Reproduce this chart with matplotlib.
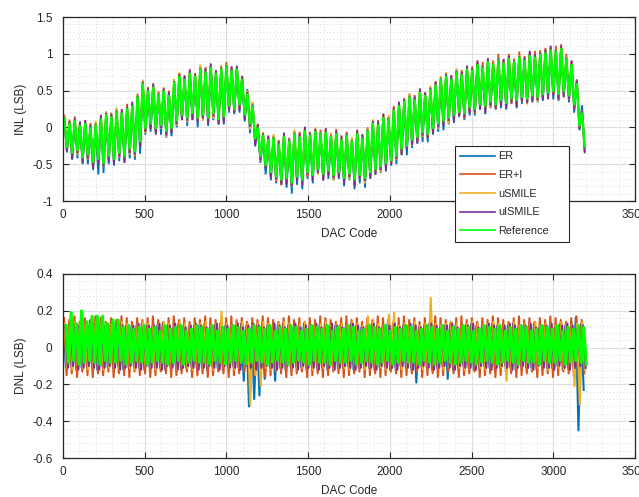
import numpy as np
import matplotlib
matplotlib.use("Agg")
import matplotlib.pyplot as plt
from matplotlib.ticker import MultipleLocator, FuncFormatter
from matplotlib.lines import Line2D

plt.rcParams['font.family'] = ['Liberation Sans', 'DejaVu Sans']
plt.rcParams['axes.unicode_minus'] = False

# ---------------- data (read per 32-code segment, 100 segments) ----------------
CODES_PER_SEG = 32
series_names = ["ER", "ER+I", "uSMILE", "uISMILE", "Reference"]
series_colors = ["#0072BD", "#D95319", "#EDB120", "#7E2F8E", "#00FF00"]

# INL (LSB) of the Reference: segment peak / trough
ref_inl_peak = [
    .12, .06, .10, .03, .06, .00, .04, .12, .18, .15,
    .22, .20, .26, .30, .42, .60, .50, .55, .45, .50,
    .44, .62, .70, .66, .74, .70, .80, .76, .82, .74,
    .80, .84, .78, .80, .66, .46, .30, .00, -.10, -.16,
    -.14, -.22, -.12, -.18, -.08, -.12, -.04, -.10, -.05, -.08,
    -.06, -.12, -.08, -.16, -.10, -.18, -.08, -.14, -.04, .06,
    .04, .14, .12, .24, .30, .36, .42, .38, .48, .44,
    .52, .58, .66, .70, .66, .76, .72, .80, .78, .86,
    .82, .90, .86, .92, .88, .94, .90, .96, .92, .98,
    .96, 1.00, 1.02, 1.06, 1.04, 1.08, .94, .86, .60, .20]
ref_inl_trough = [
    -.28, -.36, -.32, -.42, -.38, -.48, -.44, -.50, -.40, -.44,
    -.36, -.40, -.30, -.34, -.20, -.02, .04, -.02, .02, -.06,
    -.02, .08, .16, .12, .18, .12, .16, .12, .18, .10,
    .14, .28, .24, .30, .16, .04, -.16, -.40, -.52, -.62,
    -.68, -.72, -.70, -.76, -.68, -.72, -.62, -.66, -.58, -.64,
    -.60, -.66, -.62, -.70, -.64, -.72, -.66, -.70, -.62, -.58,
    -.54, -.50, -.46, -.40, -.30, -.26, -.18, -.14, -.08, -.10,
    -.02, .04, .08, .12, .16, .20, .18, .26, .24, .30,
    .28, .34, .30, .36, .32, .38, .36, .40, .38, .42,
    .40, .44, .46, .48, .44, .48, .42, .30, .02, -.26]

# other designs: deviation of segment peak / trough from the Reference (LSB)
er_peak_dev = [
    -.03, -.02, -.04, -.03, -.02, -.04, -.03, -.02, -.04, -.03,
    -.02, -.04, -.03, -.02, -.04, -.03, -.02, -.04, -.03, -.02,
    -.04, -.03, -.02, -.04, -.03, -.02, -.04, -.03, -.02, -.04,
    -.03, -.02, -.04, .02, .04, .06, .03, -.02, -.04, -.03,
    -.02, -.04, -.03, -.02, -.04, -.03, -.02, -.04, -.03, -.02,
    -.04, -.03, -.02, -.04, -.03, -.02, -.04, -.03, -.02, -.04,
    -.03, -.02, -.04, -.03, -.02, -.04, -.03, -.02, -.04, -.03,
    -.02, -.04, -.03, -.02, -.04, -.03, -.02, -.04, -.03, -.02,
    -.04, -.03, -.02, -.04, -.03, -.02, -.04, -.03, -.02, -.04,
    -.03, -.02, -.04, -.03, -.02, -.04, -.03, -.02, .05, .10]
er_trough_dev = [
    -.06, -.08, -.10, -.08, -.12, -.10, -.20, -.12, -.10, -.08,
    -.10, -.08, -.12, -.10, -.16, -.08, -.10, -.06, -.12, -.08,
    -.10, -.08, -.06, -.10, -.08, -.12, -.06, -.10, -.08, -.06,
    -.10, -.08, -.06, -.10, -.08, -.12, -.10, -.08, -.12, -.10,
    -.08, -.06, -.12, -.14, -.10, -.12, -.08, -.10, -.06, -.08,
    -.10, -.06, -.08, -.10, -.08, -.12, -.10, -.12, -.08, -.06,
    -.08, -.10, -.06, -.10, -.08, -.12, -.10, -.08, -.12, -.10,
    -.08, -.10, -.12, -.08, -.10, -.06, -.08, -.10, -.08, -.06,
    -.10, -.08, -.06, -.10, -.08, -.06, -.10, -.08, -.06, -.08,
    -.06, -.08, -.06, -.10, -.08, -.06, -.08, -.10, -.06, -.06]
eri_peak_dev = [
    .04, .02, .05, .01, .03, .06, .02, .04, .01, .05,
    .03, .02, .06, .01, .04, .03, .05, .02, .04, .01,
    .06, .03, .02, .05, .01, .04, .03, .06, .02, .04,
    .01, .05, .03, .02, .04, .03, .02, .05, .03, .04,
    .02, .05, .01, .04, .03, .06, .02, .04, .01, .05,
    .03, .02, .06, .01, .04, .03, .05, .02, .04, .01,
    .06, .03, .02, .05, .01, .04, .03, .06, .02, .04,
    .01, .05, .03, .02, .04, .03, .06, .02, .05, .04,
    .07, .03, .05, .08, .04, .06, .03, .07, .05, .04,
    .08, .05, .06, .04, .07, .05, .06, .04, .05, .03]
eri_trough_dev = [
    -.03, -.05, -.02, -.04, -.06, -.03, -.05, -.02, -.04, -.03,
    -.05, -.02, -.04, -.06, -.03, -.05, -.02, -.04, -.03, -.05,
    -.02, -.04, -.06, -.03, -.05, -.02, -.04, -.03, -.05, -.02,
    -.04, -.06, -.03, -.05, -.02, -.04, -.03, -.05, -.02, -.04,
    -.06, -.03, -.05, -.02, -.04, -.03, -.05, -.02, -.04, -.06,
    -.03, -.05, -.02, -.04, -.03, -.05, -.02, -.04, -.06, -.03,
    -.05, -.02, -.04, -.03, -.05, -.02, -.04, -.06, -.03, -.05,
    -.02, -.04, -.03, -.05, -.02, -.04, -.06, -.03, -.05, -.02,
    -.04, -.03, -.05, -.02, -.04, -.06, -.03, -.05, -.02, -.04,
    -.03, -.05, -.02, -.04, -.06, -.03, -.05, -.02, -.04, -.03]
usmile_peak_dev = [
    .02, .05, .01, .04, .02, .01, .05, .02, .04, .01,
    .05, .04, .01, .03, .02, .05, .01, .04, .02, .05,
    .01, .04, .05, .02, .03, .01, .05, .02, .04, .01,
    .05, .02, .04, .03, .01, .04, .05, .02, .04, .01,
    .05, .02, .04, .01, .05, .02, .04, .01, .05, .02,
    .04, .05, .01, .03, .02, .05, .01, .04, .02, .05,
    .01, .04, .05, .02, .03, .01, .05, .02, .04, .01,
    .05, .02, .04, .05, .01, .04, .02, .03, .01, .02,
    .03, .01, .02, .03, .02, .01, .04, .02, .03, .01,
    .02, .03, .01, .02, .03, .01, .02, .03, .02, .01]
usmile_trough_dev = [
    -.04, -.02, -.06, -.03, -.05, -.07, -.02, -.04, -.06, -.03,
    -.05, -.02, -.07, -.04, -.03, -.06, -.02, -.05, -.04, -.07,
    -.03, -.06, -.02, -.05, -.04, -.03, -.07, -.02, -.06, -.04,
    -.05, -.03, -.02, -.06, -.04, -.07, -.03, -.05, -.02, -.06,
    -.04, -.07, -.03, -.05, -.02, -.06, -.04, -.03, -.07, -.05,
    -.02, -.06, -.04, -.03, -.07, -.02, -.05, -.06, -.03, -.04,
    -.07, -.02, -.05, -.04, -.06, -.03, -.07, -.02, -.05, -.04,
    -.03, -.06, -.02, -.07, -.04, -.05, -.03, -.06, -.02, -.04,
    -.05, -.07, -.03, -.04, -.06, -.02, -.05, -.03, -.07, -.04,
    -.06, -.02, -.05, -.03, -.04, -.07, -.02, -.06, -.03, -.05]
uismile_peak_dev = [
    .01, .03, .02, .05, .04, .03, .01, .05, .02, .03,
    .01, .05, .02, .05, .01, .02, .03, .05, .01, .03,
    .04, .01, .03, .04, .05, .02, .01, .04, .05, .03,
    .02, .01, .05, .04, .03, .02, .01, .04, .02, .05,
    .01, .03, .05, .02, .01, .04, .05, .02, .03, .01,
    .05, .01, .03, .05, .02, .01, .04, .05, .01, .03,
    .04, .05, .01, .03, .05, .02, .01, .04, .05, .03,
    .02, .04, .01, .03, .05, .01, .03, .04, .02, .05,
    .02, .04, .01, .02, .05, .03, .02, .01, .03, .06,
    .03, .02, .04, .05, .02, .03, .01, .05, .03, .02]
uismile_trough_dev = [
    -.05, -.07, -.03, -.06, -.04, -.08, -.05, -.03, -.07, -.06,
    -.04, -.08, -.05, -.03, -.07, -.04, -.06, -.08, -.03, -.05,
    -.07, -.04, -.06, -.03, -.08, -.05, -.04, -.07, -.03, -.06,
    -.08, -.05, -.04, -.07, -.06, -.03, -.08, -.04, -.05, -.07,
    -.03, -.06, -.08, -.04, -.05, -.07, -.03, -.06, -.04, -.08,
    -.05, -.03, -.07, -.06, -.04, -.08, -.05, -.03, -.07, -.06,
    -.04, -.08, -.05, -.03, -.07, -.04, -.06, -.08, -.03, -.05,
    -.07, -.04, -.06, -.03, -.08, -.05, -.04, -.07, -.03, -.06,
    -.08, -.05, -.04, -.07, -.06, -.03, -.08, -.04, -.05, -.07,
    -.03, -.06, -.08, -.04, -.05, -.07, -.03, -.06, -.04, -.08]

# DNL (LSB): segment max / min per design
er_dnl_max = [
    .12, .11, .13, .12, .11, .12, .13, .11, .12, .12,
    .11, .13, .12, .11, .12, .13, .12, .11, .12, .13,
    .12, .11, .13, .12, .11, .12, .12, .13, .11, .12,
    .13, .12, .11, .12, .13, .12, .11, .12, .13, .12,
    .11, .12, .13, .12, .11, .12, .13, .11, .12, .12,
    .13, .11, .12, .12, .11, .13, .12, .11, .12, .13,
    .12, .11, .13, .12, .11, .12, .12, .13, .11, .12,
    .13, .12, .11, .12, .13, .12, .11, .12, .13, .12,
    .11, .12, .13, .12, .11, .12, .13, .11, .12, .12,
    .13, .11, .12, .12, .11, .13, .12, .11, .165, .13]
er_dnl_min = [
    -.11, -.10, -.12, -.11, -.10, -.11, -.12, -.10, -.11, -.11,
    -.10, -.12, -.11, -.10, -.11, -.12, -.11, -.10, -.11, -.12,
    -.11, -.10, -.12, -.11, -.10, -.11, -.11, -.12, -.10, -.11,
    -.12, -.11, -.10, -.11, -.18, -.32, -.28, -.26, -.17, -.11,
    -.18, -.11, -.12, -.11, -.10, -.11, -.12, -.10, -.11, -.11,
    -.12, -.10, -.11, -.11, -.10, -.12, -.11, -.10, -.11, -.12,
    -.11, -.10, -.12, -.11, -.10, -.11, -.11, -.19, -.10, -.11,
    -.12, -.11, -.10, -.17, -.12, -.11, -.10, -.11, -.12, -.11,
    -.10, -.11, -.12, -.11, -.10, -.11, -.12, -.10, -.11, -.11,
    -.12, -.10, -.11, -.11, -.10, -.12, -.11, -.10, -.45, -.23]
eri_dnl_max = [
    .16, .15, .17, .14, .16, .15, .17, .16, .14, .16,
    .15, .17, .16, .14, .16, .15, .16, .17, .15, .14,
    .16, .17, .15, .16, .14, .16, .15, .17, .16, .15,
    .14, .16, .17, .15, .16, .14, .16, .15, .17, .16,
    .15, .14, .16, .17, .15, .16, .14, .16, .15, .17,
    .16, .15, .14, .16, .17, .15, .16, .14, .16, .15,
    .17, .16, .15, .14, .16, .17, .15, .16, .14, .16,
    .15, .17, .16, .15, .14, .16, .17, .15, .16, .14,
    .16, .15, .17, .16, .15, .14, .16, .17, .15, .16,
    .14, .16, .15, .17, .16, .15, .14, .16, .17, .15]
eri_dnl_min = [
    -.15, -.14, -.16, -.13, -.15, -.16, -.14, -.15, -.13, -.16,
    -.14, -.15, -.16, -.13, -.15, -.14, -.16, -.15, -.13, -.14,
    -.16, -.15, -.14, -.13, -.16, -.15, -.14, -.16, -.15, -.13,
    -.14, -.16, -.15, -.14, -.13, -.16, -.15, -.14, -.16, -.15,
    -.13, -.14, -.16, -.15, -.14, -.13, -.16, -.15, -.14, -.16,
    -.15, -.13, -.14, -.16, -.15, -.14, -.13, -.16, -.15, -.14,
    -.16, -.15, -.13, -.14, -.16, -.15, -.14, -.13, -.16, -.15,
    -.14, -.16, -.15, -.13, -.14, -.16, -.15, -.14, -.13, -.16,
    -.15, -.14, -.16, -.15, -.13, -.14, -.16, -.15, -.14, -.13,
    -.16, -.15, -.14, -.16, -.15, -.13, -.14, -.16, -.15, -.14]
usmile_dnl_max = [
    .13, .12, .14, .13, .12, .13, .14, .12, .13, .13,
    .12, .14, .13, .12, .13, .14, .13, .12, .13, .14,
    .13, .12, .14, .13, .12, .13, .13, .14, .12, .13,
    .195, .13, .12, .13, .14, .13, .12, .13, .14, .13,
    .12, .13, .14, .13, .12, .13, .14, .12, .13, .13,
    .14, .12, .13, .13, .12, .14, .13, .12, .17, .14,
    .13, .12, .18, .19, .12, .13, .13, .14, .12, .13,
    .27, .13, .12, .13, .14, .13, .12, .13, .14, .13,
    .12, .13, .14, .13, .12, .13, .14, .12, .13, .13,
    .14, .12, .13, .13, .12, .14, .13, .12, .13, .14]
usmile_dnl_min = [
    -.11, -.12, -.10, -.11, -.12, -.11, -.10, -.12, -.11, -.11,
    -.12, -.10, -.11, -.12, -.11, -.10, -.11, -.12, -.11, -.10,
    -.11, -.12, -.10, -.11, -.12, -.11, -.11, -.10, -.12, -.11,
    -.10, -.11, -.12, -.11, -.10, -.31, -.15, -.21, -.11, -.12,
    -.12, -.11, -.10, -.11, -.12, -.11, -.10, -.12, -.11, -.11,
    -.10, -.12, -.11, -.11, -.12, -.10, -.11, -.12, -.11, -.10,
    -.11, -.12, -.10, -.11, -.12, -.11, -.11, -.10, -.12, -.11,
    -.10, -.11, -.12, -.11, -.10, -.11, -.12, -.11, -.10, -.11,
    -.12, -.11, -.10, -.11, -.18, -.12, -.11, -.10, -.11, -.12,
    -.11, -.10, -.12, -.11, -.11, -.12, -.10, -.21, -.31, -.12]
uismile_dnl_max = [
    .12, .11, .13, .12, .11, .12, .13, .12, .11, .12,
    .13, .12, .11, .12, .13, .11, .12, .12, .13, .11,
    .12, .13, .12, .11, .12, .13, .12, .11, .12, .13,
    .11, .12, .12, .13, .11, .12, .13, .12, .11, .12,
    .13, .12, .11, .12, .13, .11, .12, .12, .13, .11,
    .12, .13, .12, .11, .12, .13, .12, .11, .12, .13,
    .11, .12, .12, .13, .11, .12, .13, .12, .11, .12,
    .13, .12, .11, .12, .13, .11, .12, .12, .13, .11,
    .12, .13, .12, .11, .12, .13, .12, .11, .12, .13,
    .11, .12, .12, .13, .11, .12, .13, .12, .11, .12]
uismile_dnl_min = [
    -.11, -.10, -.12, -.11, -.10, -.11, -.12, -.11, -.10, -.11,
    -.12, -.11, -.10, -.11, -.12, -.10, -.11, -.11, -.12, -.10,
    -.11, -.12, -.11, -.10, -.11, -.12, -.11, -.10, -.11, -.12,
    -.10, -.11, -.11, -.12, -.10, -.11, -.12, -.11, -.10, -.11,
    -.12, -.11, -.10, -.11, -.12, -.10, -.11, -.11, -.12, -.10,
    -.11, -.12, -.11, -.10, -.11, -.12, -.11, -.10, -.11, -.12,
    -.10, -.11, -.11, -.12, -.10, -.11, -.12, -.11, -.10, -.11,
    -.12, -.11, -.10, -.11, -.12, -.10, -.11, -.11, -.12, -.10,
    -.11, -.12, -.11, -.10, -.11, -.12, -.11, -.10, -.11, -.12,
    -.10, -.11, -.11, -.12, -.10, -.11, -.12, -.11, -.10, -.11]
ref_dnl_max = [
    .12, .19, .13, .20, .14, .17, .17, .17, .13, .15,
    .15, .11, .12, .10, .11, .12, .10, .11, .09, .12,
    .10, .11, .12, .09, .10, .12, .11, .10, .12, .09,
    .11, .10, .12, .11, .09, .10, .12, .11, .10, .12,
    .09, .11, .10, .12, .11, .09, .10, .12, .11, .10,
    .12, .09, .11, .10, .12, .11, .09, .10, .12, .11,
    .10, .12, .09, .11, .10, .12, .11, .09, .10, .12,
    .11, .10, .12, .09, .11, .10, .12, .11, .09, .10,
    .12, .11, .10, .12, .09, .11, .10, .12, .11, .09,
    .10, .12, .11, .10, .12, .09, .11, .10, .12, .11]
ref_dnl_min = [
    -.08, -.07, -.09, -.08, -.07, -.08, -.09, -.07, -.08, -.08,
    -.07, -.09, -.08, -.07, -.08, -.09, -.08, -.07, -.08, -.09,
    -.08, -.07, -.09, -.08, -.07, -.08, -.08, -.09, -.07, -.08,
    -.09, -.08, -.07, -.08, -.09, -.08, -.07, -.08, -.09, -.08,
    -.07, -.08, -.09, -.08, -.07, -.08, -.09, -.07, -.08, -.08,
    -.09, -.07, -.08, -.08, -.07, -.09, -.08, -.07, -.08, -.09,
    -.08, -.07, -.09, -.08, -.07, -.08, -.08, -.09, -.07, -.08,
    -.09, -.08, -.07, -.08, -.09, -.08, -.07, -.08, -.09, -.08,
    -.07, -.08, -.09, -.08, -.07, -.08, -.09, -.07, -.08, -.08,
    -.09, -.07, -.08, -.08, -.07, -.09, -.08, -.07, -.08, -.09]

x_ticks = [0, 500, 1000, 1500, 2000, 2500, 3000, 3500]

# ---------------- build series ----------------
ref_p = np.array(ref_inl_peak)
ref_t = np.array(ref_inl_trough)
inl_peaks = [ref_p + np.array(er_peak_dev), ref_p + np.array(eri_peak_dev),
             ref_p + np.array(usmile_peak_dev), ref_p + np.array(uismile_peak_dev), ref_p]
inl_troughs = [ref_t + np.array(er_trough_dev), ref_t + np.array(eri_trough_dev),
               ref_t + np.array(usmile_trough_dev), ref_t + np.array(uismile_trough_dev), ref_t]
dnl_max = [er_dnl_max, eri_dnl_max, usmile_dnl_max, uismile_dnl_max, ref_dnl_max]
dnl_min = [er_dnl_min, eri_dnl_min, usmile_dnl_min, uismile_dnl_min, ref_dnl_min]

nseg = len(ref_inl_peak)
seg0 = np.arange(nseg) * CODES_PER_SEG


def zig(a, b, off_a, off_b):
    x = np.empty(2 * nseg)
    y = np.empty(2 * nseg)
    x[0::2] = seg0 + off_a
    x[1::2] = seg0 + off_b
    y[0::2] = a
    y[1::2] = b
    return x, y


fig = plt.figure(figsize=(6.39, 4.97), dpi=100)
ax1 = fig.add_axes([63 / 639, 1 - 201 / 497, 572 / 639, 184 / 497])
ax2 = fig.add_axes([63 / 639, 1 - 458 / 497, 572 / 639, 184 / 497])

fmt = FuncFormatter(lambda v, p: ('%g' % round(v, 6)))


def style(ax, ylim, ymaj, ymin, ylabel):
    ax.set_xlim(0, 3500)
    ax.set_ylim(*ylim)
    ax.set_xticks(x_ticks)
    ax.xaxis.set_minor_locator(MultipleLocator(100))
    ax.yaxis.set_major_locator(MultipleLocator(ymaj))
    ax.yaxis.set_minor_locator(MultipleLocator(ymin))
    ax.xaxis.set_major_formatter(fmt)
    ax.yaxis.set_major_formatter(fmt)
    ax.grid(which='major', color='#dedede', lw=0.8)
    ax.grid(which='minor', color='#cfcfcf', lw=0.6, ls=(0, (1, 3)))
    ax.set_axisbelow(True)
    ax.tick_params(which='both', direction='in', top=True, right=True,
                   color='#262626', labelcolor='#262626', labelsize=8.5)
    ax.tick_params(which='major', length=4.5, width=0.8)
    ax.tick_params(which='minor', length=0)
    ax.tick_params(axis='x', pad=6)
    ax.tick_params(axis='y', pad=7.5)
    for s in ax.spines.values():
        s.set_color('#262626')
        s.set_linewidth(0.9)
    ax.set_xlabel('DAC Code', fontsize=8.5, color='#262626', labelpad=4.5)
    ax.set_ylabel(ylabel, fontsize=8.5, color='#262626', labelpad=4)


style(ax1, (-1, 1.5), 0.5, 0.1, 'INL (LSB)')
style(ax2, (-0.6, 0.4), 0.2, 0.04, 'DNL (LSB)')

for i in range(5):
    lw = 1.7 if i == 4 else 1.3
    x, y = zig(inl_peaks[i], inl_troughs[i], 8, 24)
    ax1.plot(x, y, color=series_colors[i], lw=lw, solid_joinstyle='miter')
    x, y = zig(dnl_max[i], dnl_min[i], 2 + 4 * i, 18 + 4 * i)
    ax2.plot(x, y, color=series_colors[i], lw=(2.2 if i == 4 else 1.5))

handles = [Line2D([], [], color=c, lw=1.2) for c in series_colors]
leg = fig.legend(handles, series_names, loc='upper left', mode='expand',
                 bbox_to_anchor=(455 / 639, 1 - 246 / 497, 114 / 639, 100 / 497),
                 bbox_transform=fig.transFigure,
                 borderaxespad=0, fontsize=7.8, handlelength=3.2, handletextpad=0.25,
                 labelspacing=0.8, borderpad=0.5, fancybox=False, framealpha=1)
leg.get_frame().set_edgecolor('#262626')
leg.get_frame().set_linewidth(0.8)
for t in leg.get_texts():
    t.set_color('#262626')

fig.savefig('out.png', dpi=100)
